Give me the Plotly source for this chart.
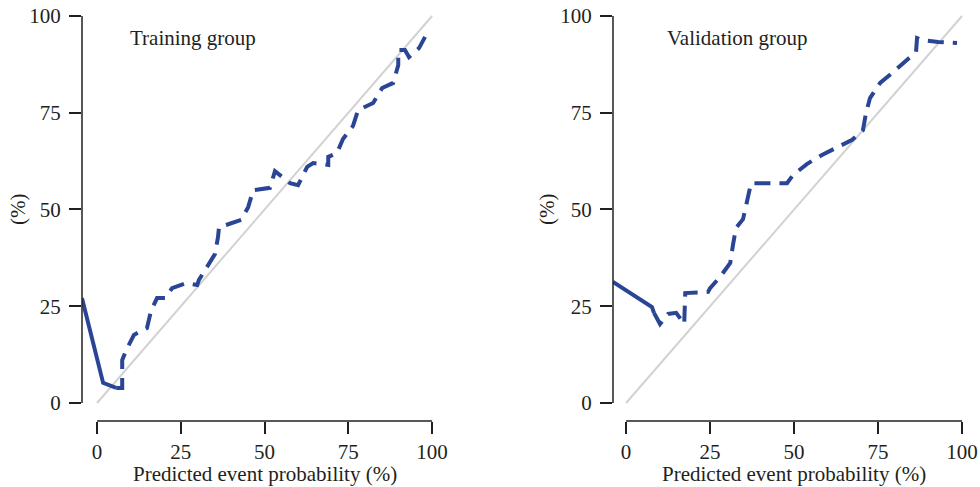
import plotly.graph_objects as go

# ---- data ----
tick_vals = [0, 25, 50, 75, 100]
diag = [0, 100]

train_solid_x = [-4.5, 1.8, 5.7]
train_solid_y = [27.1, 5.2, 3.9]
train_dash_x = [5.7, 7.5, 7.5, 8.7, 11.0, 14.9, 16.1, 17.9, 20.3, 22.4, 26.6, 29.9, 30.4, 32.8, 35.2,
                36.1, 36.4, 38.5, 43.0, 45.1, 46.6, 51.6, 53.1, 57.6, 60.0, 62.7, 64.5, 69.0, 69.0,
                71.6, 73.4, 76.4, 77.9, 82.4, 85.1, 88.4, 89.9, 89.9, 91.9, 93.1, 96.1, 97.9]
train_dash_y = [3.9, 3.9, 11.1, 13.7, 17.6, 19.4, 23.8, 27.1, 27.1, 29.7, 31.0, 30.5, 31.8, 35.1, 38.5,
                42.9, 45.5, 46.0, 47.3, 50.6, 55.0, 55.6, 59.9, 56.8, 56.3, 61.0, 62.0, 61.5, 63.6,
                64.6, 68.2, 71.6, 75.7, 77.5, 81.4, 82.7, 87.3, 91.2, 91.2, 89.4, 91.7, 94.6]

valid_solid_x = [-3.9, 7.7, 8.3]
valid_solid_y = [31.3, 24.8, 23.3]
valid_dash_x = [8.3, 10.1, 12.5, 14.9, 17.3, 17.6, 24.4, 25.0, 28.0, 31.0, 31.8, 32.7, 34.8, 36.0,
                36.9, 37.2, 40.5, 47.9, 49.7, 53.9, 58.3, 62.5, 67.3, 70.5, 71.4, 72.6, 75.6, 79.5,
                83.6, 86.3, 86.6, 88.1, 92.9, 98.5]
valid_dash_y = [23.3, 20.4, 23.0, 23.3, 20.4, 28.4, 28.7, 29.7, 32.6, 36.2, 40.8, 45.2, 47.5, 51.7,
                55.6, 56.8, 56.8, 56.8, 58.9, 61.8, 64.1, 65.9, 68.0, 70.5, 74.9, 78.8, 82.7, 85.5,
                88.6, 90.7, 94.3, 93.8, 93.3, 93.0]

panel_titles = ["Training group", "Validation group"]
x_title = "Predicted event probability (%)"
y_title = "(%)"

# ---- style ----
W, H = 980, 487
BLUE = "#2B4596"
GREY = "#D2D2D2"
INK = "#231F20"
FONT = "Liberation Serif"
FS = 21

fig = go.Figure()

def add_panel(sx, sy, dx, dy, xa, ya):
    fig.add_trace(go.Scatter(x=diag, y=diag, mode="lines", xaxis=xa, yaxis=ya,
                             line=dict(color=GREY, width=2), showlegend=False, hoverinfo="skip"))
    fig.add_trace(go.Scatter(x=sx, y=sy, mode="lines", xaxis=xa, yaxis=ya,
                             line=dict(color=BLUE, width=4), showlegend=False))
    fig.add_trace(go.Scatter(x=dx, y=dy, mode="lines", xaxis=xa, yaxis=ya,
                             line=dict(color=BLUE, width=4, dash="16px,9px"), showlegend=False))

add_panel(train_solid_x, train_solid_y, train_dash_x, train_dash_y, "x", "y")
add_panel(valid_solid_x, valid_solid_y, valid_dash_x, valid_dash_y, "x2", "y2")

ydom = [(H - 421) / H, (H - 0.5) / H]
yrange = [-4.65, 104]

common_x = dict(tickvals=tick_vals, ticks="outside", ticklen=12, tickwidth=1.5, tickcolor=INK,
                showline=False, showgrid=False, zeroline=False, automargin=False,
                tickfont=dict(family=FONT, size=FS, color=INK), fixedrange=True)
common_y = dict(tickvals=tick_vals, ticks="outside", ticklen=12, tickwidth=1.5, tickcolor=INK,
                showline=False, showgrid=False, zeroline=False, automargin=False,
                tickfont=dict(family=FONT, size=FS, color=INK), range=yrange, domain=ydom,
                ticklabelstandoff=4, fixedrange=True)

fig.update_layout(
    width=W, height=H,
    margin=dict(l=0, r=0, t=0, b=0),
    paper_bgcolor="white", plot_bgcolor="white",
    template="none",
    xaxis=dict(common_x, range=[-4.5, 104], domain=[82 / W, 445.5 / W], anchor="y"),
    yaxis=dict(common_y, anchor="x"),
    xaxis2=dict(common_x, range=[-3.9, 104], domain=[613 / W, 975.5 / W], anchor="y2"),
    yaxis2=dict(common_y, anchor="x2"),
)

shapes = []
annotations = []
for xa, ya, xt, xcen, ylab_x, tx in [("x", "y", panel_titles[0], 265, 18, 9.3),
                                      ("x2", "y2", panel_titles[1], 794, 547, 11.6)]:
    shapes.append(dict(type="line", xref=f"{xa} domain", x0=0, x1=0, yref=ya, y0=0, y1=100,
                       line=dict(color=INK, width=1.5)))
    shapes.append(dict(type="line", xref=xa, x0=0, x1=100, yref=f"{ya} domain", y0=0, y1=0,
                       line=dict(color=INK, width=1.5)))
    annotations.append(dict(text=xt, xref=xa, yref=ya, x=tx, y=94.3, xanchor="left", yanchor="middle",
                            showarrow=False, font=dict(family=FONT, size=FS, color=INK)))
    annotations.append(dict(text=x_title, xref="paper", yref="paper", x=xcen / W, y=(H - 474) / H,
                            xanchor="center", yanchor="middle", showarrow=False,
                            font=dict(family=FONT, size=FS, color=INK)))
    annotations.append(dict(text=y_title, xref="paper", yref="paper", x=ylab_x / W, y=(H - 210) / H,
                            xanchor="center", yanchor="middle", textangle=-90, showarrow=False,
                            font=dict(family=FONT, size=FS, color=INK)))

fig.update_layout(shapes=shapes, annotations=annotations)
fig.write_html("out.html")
